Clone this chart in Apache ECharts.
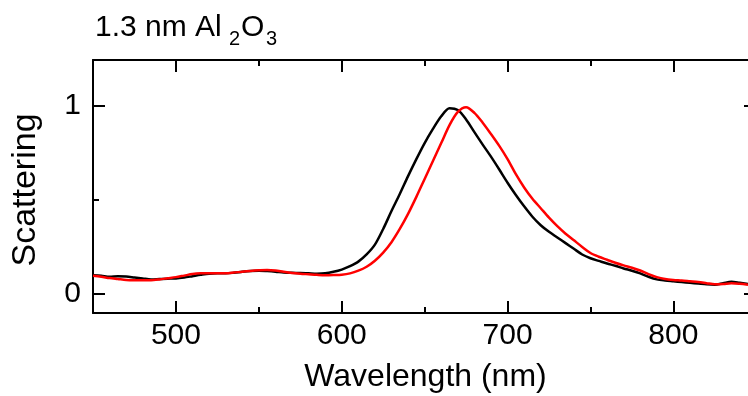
<!DOCTYPE html>
<html>
<head>
<meta charset="utf-8">
<script src="https://cdn.jsdelivr.net/npm/echarts@6/dist/echarts.min.js"></script>
<style>html,body{margin:0;padding:0;background:#fff}#c{width:748px;height:396px}</style>
</head>
<body>
<div id="c"></div>
<script>
var wavelengths = [450,455,460,465,470,475,480,485,490,495,500,505,510,515,520,525,530,535,540,545,550,555,560,565,570,575,580,585,590,595,600,605,610,615,620,625,630,635,640,645,650,655,660,665,670,675,680,685,690,695,700,705,710,715,720,725,730,735,740,745,750,755,760,765,770,775,780,785,790,795,800,805,810,815,820,825,830,835,840,845];
var blackSeries = [0.100,0.097,0.092,0.095,0.093,0.088,0.083,0.078,0.080,0.082,0.083,0.088,0.095,0.102,0.108,0.110,0.110,0.113,0.118,0.122,0.124,0.122,0.119,0.115,0.113,0.112,0.110,0.108,0.110,0.118,0.130,0.148,0.172,0.210,0.262,0.345,0.440,0.530,0.625,0.715,0.800,0.875,0.942,0.985,0.975,0.925,0.858,0.792,0.728,0.660,0.590,0.525,0.465,0.410,0.365,0.330,0.300,0.270,0.240,0.210,0.190,0.176,0.162,0.150,0.136,0.124,0.110,0.092,0.078,0.072,0.068,0.064,0.060,0.056,0.052,0.050,0.058,0.066,0.060,0.053];
var redSeries = [0.097,0.092,0.085,0.080,0.075,0.074,0.074,0.074,0.078,0.084,0.090,0.098,0.106,0.110,0.111,0.110,0.110,0.114,0.119,0.123,0.126,0.128,0.125,0.118,0.112,0.108,0.105,0.102,0.100,0.101,0.103,0.110,0.124,0.145,0.177,0.220,0.275,0.345,0.425,0.515,0.610,0.705,0.800,0.895,0.965,0.990,0.960,0.908,0.848,0.785,0.715,0.635,0.565,0.505,0.455,0.405,0.360,0.320,0.285,0.250,0.218,0.198,0.182,0.166,0.152,0.140,0.125,0.106,0.090,0.080,0.075,0.072,0.068,0.064,0.058,0.052,0.053,0.058,0.055,0.050];
var xMajorTicks = [500,600,700,800];
var xMinorTicks = [550,650,750];
var yMajorTicks = [0,1];
var yMinorTicks = [0.5];

var FONT = 'Liberation Sans';
var X_MIN = 450, X_MAX = 845, Y_MIN = -0.1, Y_MAX = 1.24;

function pairs(ys){ return wavelengths.map(function(w,i){ return [w, ys[i]]; }); }

function xAx(pos, ticks, len, showLine, showLabel){
  return {
    type:'value', position:pos, min:X_MIN, max:X_MAX,
    axisLine:{show:showLine, onZero:false, lineStyle:{color:'#000', width:2}},
    axisTick:{show:true, inside:true, length:len, customValues:ticks, lineStyle:{color:'#000', width:2}},
    axisLabel:{show:showLabel, customValues:ticks, color:'#000', fontFamily:FONT, fontSize:30, margin:8},
    splitLine:{show:false}
  };
}
function yAx(pos, ticks, len, showLine, showLabel, off){
  return {
    type:'value', position:pos, min:Y_MIN, max:Y_MAX, offset:off||0,
    axisLine:{show:showLine, onZero:false, lineStyle:{color:'#000', width:2}},
    axisTick:{show:true, inside:true, length:len, customValues:ticks, lineStyle:{color:'#000', width:2}},
    axisLabel:{show:showLabel, customValues:ticks, color:'#000', fontFamily:FONT, fontSize:30, margin:12},
    splitLine:{show:false}
  };
}

var xb = xAx('bottom', xMajorTicks, 12, true, true);
xb.name = 'Wavelength (nm)'; xb.nameLocation='middle'; xb.nameGap=48;
xb.nameTextStyle = {color:'#000', fontFamily:FONT, fontSize:32, padding:[0,0,0,10]};
var yl = yAx('left', yMajorTicks, 12, true, true);
yl.name = 'Scattering'; yl.nameLocation='middle'; yl.nameGap=50;
yl.nameTextStyle = {color:'#000', fontFamily:FONT, fontSize:34, padding:[0,7,0,0]};

var chart = echarts.init(document.getElementById('c'), null, {renderer:'canvas'});
chart.setOption({
  animation:false,
  backgroundColor:'#fff',
  grid:{left:93, right:0, top:60, bottom:83, containLabel:false, outerBoundsMode:'none'},
  xAxis:[ xb, xAx('top', xMajorTicks, 12, true, false), xAx('bottom', xMinorTicks, 6, false, false), xAx('top', xMinorTicks, 6, false, false) ],
  yAxis:[ yl, yAx('right', yMajorTicks, 12, true, false, 8), yAx('left', yMinorTicks, 6, false, false), yAx('right', yMinorTicks, 6, false, false, 8) ],
  graphic:[
    {type:'text', left:95, top:13, style:{text:'1.3 nm Al', fontFamily:FONT, fontSize:30, fill:'#000'}},
    {type:'text', left:229, top:29, style:{text:'2', fontFamily:FONT, fontSize:20, fill:'#000'}},
    {type:'text', left:241, top:13, style:{text:'O', fontFamily:FONT, fontSize:30, fill:'#000'}},
    {type:'text', left:266, top:29, style:{text:'3', fontFamily:FONT, fontSize:20, fill:'#000'}}
  ],
  series:[
    {type:'line', data:pairs(blackSeries), xAxisIndex:0, yAxisIndex:0, showSymbol:false, smooth:0.3, lineStyle:{color:'#000', width:2.5}, z:2},
    {type:'line', data:pairs(redSeries), xAxisIndex:0, yAxisIndex:0, showSymbol:false, smooth:0.3, lineStyle:{color:'#ff0000', width:2.5}, z:3}
  ]
});
</script>
</body>
</html>
